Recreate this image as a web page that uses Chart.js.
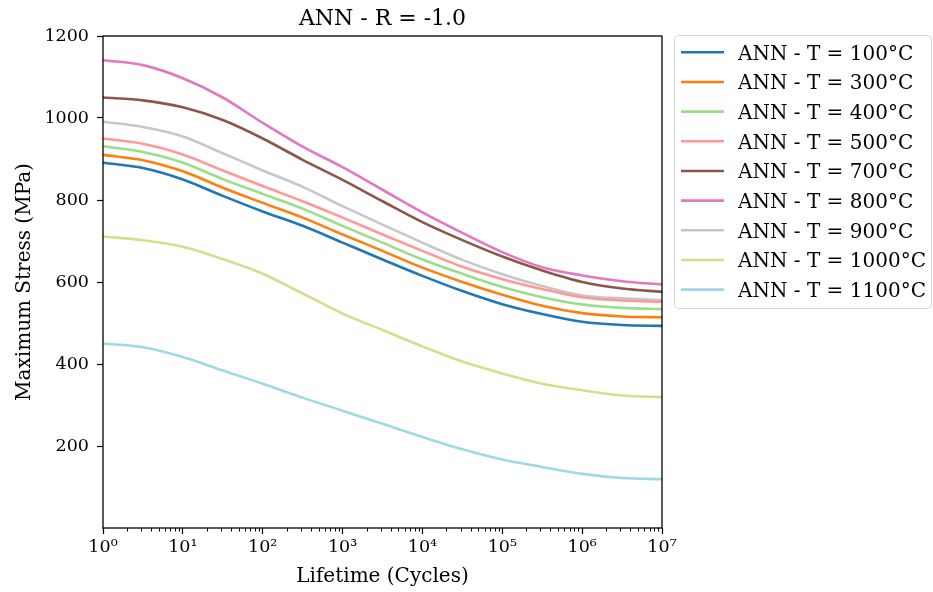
<!DOCTYPE html>
<html><head><meta charset="utf-8">
<script src="https://cdn.jsdelivr.net/npm/chart.js@4/dist/chart.umd.min.js"></script>
<style>html,body{margin:0;padding:0;background:#fff}#wrap{width:933px;height:592px}</style>
</head><body><div id="wrap"><canvas id="c" width="933" height="592"></canvas></div>
<script>
const chartTitle = 'ANN - R = -1.0';
const xAxisTitle = 'Lifetime (Cycles)';
const yAxisTitle = 'Maximum Stress (MPa)';
const lifetimes = [1, 3.162, 10, 31.62, 100, 316.2, 1000, 3162, 1e4, 31620, 1e5, 316200, 1e6, 3162000, 1e7];
const seriesLabels = ['ANN - T = 100°C','ANN - T = 300°C','ANN - T = 400°C','ANN - T = 500°C','ANN - T = 700°C','ANN - T = 800°C','ANN - T = 900°C','ANN - T = 1000°C','ANN - T = 1100°C'];
const stress100 = [891, 878, 850, 810, 772, 737, 696, 655, 615, 578, 546, 522, 503, 495, 493];
const stress300 = [910, 897, 870, 830, 793, 757, 716, 676, 635, 600, 569, 542, 524, 516, 514];
const stress400 = [931, 917, 891, 851, 815, 779, 737, 696, 655, 620, 588, 563, 545, 537, 534];
const stress500 = [950, 937, 911, 872, 834, 797, 757, 716, 676, 637, 607, 583, 563, 555, 552];
const stress700 = [1050, 1043, 1026, 995, 950, 898, 849, 797, 746, 702, 662, 628, 600, 584, 576];
const stress800 = [1141, 1129, 1097, 1050, 988, 930, 880, 825, 770, 720, 673, 636, 616, 602, 594];
const stress900 = [991, 978, 955, 914, 872, 832, 785, 740, 696, 654, 619, 590, 567, 560, 556];
const stress1000 = [711, 702, 686, 656, 620, 572, 523, 483, 443, 406, 377, 352, 336, 323, 319];
const stress1100 = [450, 441, 417, 384, 352, 318, 286, 254, 222, 192, 167, 149, 132, 122, 119];
const seriesColors = ['#1f77b4','#ff7f0e','#98df8a','#ff9896','#8c564b','#e377c2','#c7c7c7','#dbdb8d','#9edae5'];
const xTickValues = [1, 10, 100, 1000, 1e4, 1e5, 1e6, 1e7];
const yTickValues = [200, 400, 600, 800, 1000, 1200];

const allSeries = [stress100, stress300, stress400, stress500, stress700, stress800, stress900, stress1000, stress1100];
const FONT = "'DejaVu Serif', serif";
const SUP = {'0':'⁰','1':'¹','2':'²','3':'³','4':'⁴','5':'⁵','6':'⁶','7':'⁷','8':'⁸','9':'⁹','-':'⁻'};

const datasets = allSeries.map((arr, i) => ({
  label: seriesLabels[i],
  data: arr.map((v, j) => ({x: lifetimes[j], y: v})),
  borderColor: seriesColors[i],
  backgroundColor: seriesColors[i],
  borderWidth: 2.6,
  pointRadius: 0,
  fill: false,
  cubicInterpolationMode: 'monotone'
}));

const framePlugin = {
  id: 'framePlugin',
  afterDatasetsDraw(chart) {
    const {ctx, chartArea: a, scales} = chart;
    ctx.save();
    ctx.strokeStyle = '#000';
    ctx.lineWidth = 1.3;
    ctx.strokeRect(a.left, a.top, a.right - a.left, a.bottom - a.top);
    const xs = scales.x;
    ctx.lineWidth = 1;
    for (let e = 0; e < 7; e++) {
      for (let m = 2; m <= 9; m++) {
        const px = Math.round(xs.getPixelForValue(m * Math.pow(10, e))) + 0.5;
        ctx.beginPath(); ctx.moveTo(px, a.bottom); ctx.lineTo(px, a.bottom + 3.5); ctx.stroke();
      }
    }
    ctx.fillStyle = '#000';
    ctx.font = '22px ' + FONT;
    ctx.textAlign = 'center';
    ctx.textBaseline = 'alphabetic';
    ctx.fillText(chartTitle, (a.left + a.right) / 2, 25);
    ctx.restore();
  }
};

const legendPlugin = {
  id: 'boxLegend',
  afterDraw(chart) {
    const ctx = chart.ctx;
    const x0 = 674.5, y0 = 35.5, w = 257, h = 273, r = 4;
    ctx.save();
    ctx.beginPath();
    ctx.moveTo(x0 + r, y0); ctx.lineTo(x0 + w - r, y0); ctx.quadraticCurveTo(x0 + w, y0, x0 + w, y0 + r);
    ctx.lineTo(x0 + w, y0 + h - r); ctx.quadraticCurveTo(x0 + w, y0 + h, x0 + w - r, y0 + h);
    ctx.lineTo(x0 + r, y0 + h); ctx.quadraticCurveTo(x0, y0 + h, x0, y0 + h - r);
    ctx.lineTo(x0, y0 + r); ctx.quadraticCurveTo(x0, y0, x0 + r, y0);
    ctx.closePath();
    ctx.fillStyle = 'rgba(255,255,255,0.8)';
    ctx.fill();
    ctx.strokeStyle = '#d6d6d6';
    ctx.lineWidth = 1;
    ctx.stroke();
    ctx.font = '20px ' + FONT;
    ctx.textAlign = 'left';
    ctx.textBaseline = 'alphabetic';
    chart.data.datasets.forEach((ds, i) => {
      const y = 52.3 + i * 29.67;
      ctx.strokeStyle = ds.borderColor;
      ctx.lineWidth = 2.6;
      ctx.beginPath(); ctx.moveTo(681, y); ctx.lineTo(724, y); ctx.stroke();
      ctx.fillStyle = '#000';
      ctx.fillText(ds.label, 738, y + 7.5);
    });
    ctx.restore();
  }
};

new Chart(document.getElementById('c'), {
  type: 'line',
  data: { datasets },
  options: {
    responsive: false,
    animation: false,
    layout: { padding: { left: 0, right: 271, top: 36, bottom: 0 } },
    plugins: { legend: { display: false }, title: { display: false }, tooltip: { enabled: false } },
    scales: {
      x: {
        type: 'logarithmic',
        min: 1, max: 1e7,
        afterBuildTicks: s => { s.ticks = xTickValues.map(v => ({ value: v, major: true })); },
        afterFit: s => { s.height = 64; },
        ticks: {
          autoSkip: false, maxRotation: 0, minRotation: 0, color: '#000', padding: 3,
          font: { family: FONT, size: 17.5 },
          callback: v => '10' + String(Math.round(Math.log10(v))).split('').map(c => SUP[c]).join('')
        },
        grid: { drawOnChartArea: false, drawTicks: true, tickLength: 6, color: '#000', tickColor: '#000', tickWidth: 1.2 },
        border: { display: false },
        title: { display: true, text: xAxisTitle, color: '#000', font: { family: FONT, size: 20 }, padding: { top: 0, bottom: 3 } }
      },
      y: {
        type: 'linear',
        min: 0, max: 1200,
        afterBuildTicks: s => { s.ticks = yTickValues.map(v => ({ value: v })); },
        afterFit: s => { s.width = 103; },
        ticks: { color: '#000', padding: 8, font: { family: FONT, size: 17.5 }, callback: v => String(v) },
        grid: { drawOnChartArea: false, drawTicks: true, tickLength: 6, color: '#000', tickColor: '#000', tickWidth: 1.2 },
        border: { display: false },
        title: { display: true, text: yAxisTitle, color: '#000', font: { family: FONT, size: 20 }, padding: { top: 13, bottom: 0 } }
      }
    }
  },
  plugins: [framePlugin, legendPlugin]
});
</script>
</body></html>
